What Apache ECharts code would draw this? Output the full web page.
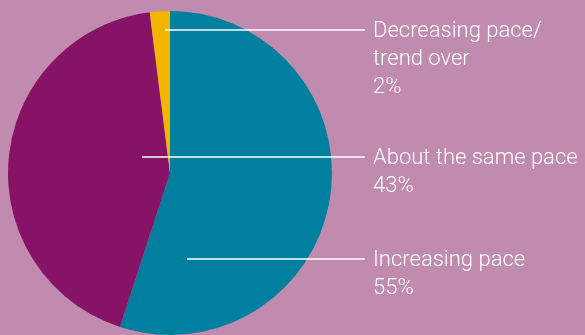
<!DOCTYPE html>
<html>
<head>
<meta charset="utf-8">
<script src="https://cdn.jsdelivr.net/npm/echarts@6/dist/echarts.min.js"></script>
<style>
  html, body { margin: 0; padding: 0; background: #C08BAF; }
  #chart { width: 585px; height: 335px; }
</style>
</head>
<body>
<div id="chart"></div>
<script>
// Share of responses, drawn clockwise from 12 o'clock
const categories = ['Increasing pace', 'About the same pace', 'Decreasing pace/\ntrend over'];
const shares = [55, 43, 2];
const sliceColors = ['#007F9E', '#861366', '#F2B600'];

// Leader line anchors: horizontal line height and where it starts inside each slice
const leaderY = [259, 157, 30];
const leaderStartX = [187, 142, 165];
const leaderEndX = 365;
const labelX = 373;
const lineHeight = 28;

const pieCenter = [170, 173];
const pieRadius = 162;

const chart = echarts.init(document.getElementById('chart'), null, { renderer: 'canvas' });

const pieData = (withColor) => categories.map((name, i) => ({
  name: name,
  value: shares[i],
  itemStyle: { color: withColor ? sliceColors[i] : 'rgba(0,0,0,0)' }
}));

chart.setOption({
  backgroundColor: '#C08BAF',
  animation: false,
  series: [
    // slices
    {
      type: 'pie',
      z: 2,
      center: pieCenter,
      radius: pieRadius,
      startAngle: 90,
      clockwise: true,
      silent: true,
      data: pieData(true),
      label: { show: false },
      labelLine: { show: false }
    },
    // same layout on top, carrying the labels and white leader lines
    {
      type: 'pie',
      z: 3,
      center: pieCenter,
      radius: pieRadius,
      startAngle: 90,
      clockwise: true,
      silent: true,
      avoidLabelOverlap: false,
      data: pieData(false),
      label: {
        show: true,
        position: 'outside',
        formatter: '{b}\n{c}%',
        color: '#FFFFFF',
        fontFamily: 'Roboto, "Liberation Sans", sans-serif',
        fontWeight: 300,
        fontSize: 22,
        lineHeight: lineHeight,
        align: 'left',
        verticalAlign: 'top'
      },
      labelLine: {
        show: true,
        lineStyle: { color: '#FFFFFF', width: 1.3 }
      },
      labelLayout: function (params) {
        const i = params.dataIndex;
        const y = leaderY[i];
        return {
          x: labelX,
          y: y - lineHeight / 2 + 1,
          align: 'left',
          verticalAlign: 'top',
          labelLinePoints: [
            [leaderStartX[i], y],
            [(leaderStartX[i] + leaderEndX) / 2, y],
            [leaderEndX, y]
          ]
        };
      }
    }
  ]
});
</script>
</body>
</html>
